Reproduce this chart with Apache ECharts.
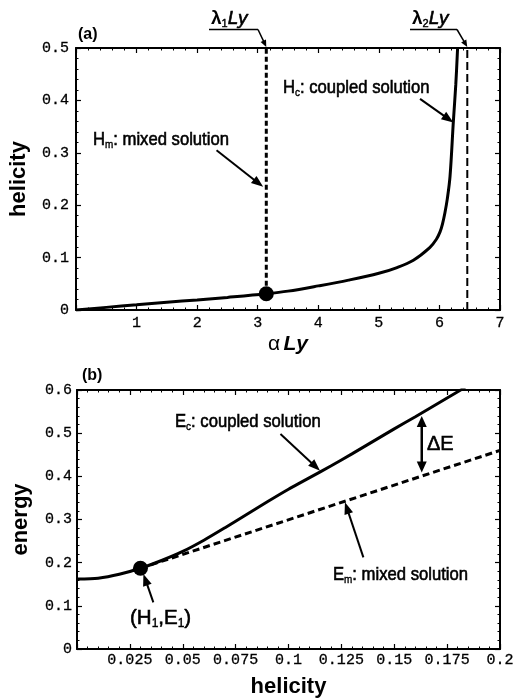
<!DOCTYPE html>
<html><head><meta charset="utf-8">
<script src="https://cdn.jsdelivr.net/npm/echarts@6/dist/echarts.min.js"></script>
<style>html,body{margin:0;padding:0;background:#fff}#c{width:517px;height:699px}</style>
</head><body><div id="c"></div>
<script>
// ---- panel (a): helicity vs alpha*Ly ----
const alphaLy   = [0, 0.5, 1, 1.5, 2, 2.5, 3.1416, 3.5, 4, 4.5, 5, 5.3, 5.57, 5.84, 5.95, 6.01, 6.05, 6.09, 6.13, 6.175, 6.23, 6.27, 6.30];
const helicityC = [0, 0.005, 0.010, 0.015, 0.019, 0.024, 0.031, 0.036, 0.046, 0.057, 0.070, 0.081, 0.095, 0.119, 0.135, 0.149, 0.164, 0.185, 0.212, 0.255, 0.36, 0.43, 0.50];
const lambda1Ly = 3.1416;
const lambda2Ly = 6.46;
const mixedPointA = [3.1416, 0.031];
const helicityTop = 0.5;
// ---- panel (b): energy vs helicity ----
const helicityB = [0, 0.01, 0.02, 0.03, 0.04, 0.05, 0.06, 0.07, 0.08, 0.09, 0.10, 0.11, 0.12, 0.13, 0.14, 0.15, 0.16, 0.17, 0.18, 0.1835];
const energyC   = [0.162, 0.164, 0.173, 0.187, 0.205, 0.226, 0.252, 0.281, 0.311, 0.341, 0.370, 0.397, 0.424, 0.452, 0.481, 0.510, 0.538, 0.567, 0.596, 0.606];
const helicityM = [0.03, 0.2];
const energyM   = [0.187, 0.46];
const pointH1E1 = [0.03, 0.187];

const chart = echarts.init(document.getElementById('c'), null, {renderer: 'canvas'});
const MONO = "'Liberation Mono','DejaVu Sans Mono',monospace";
const SANS = "'Liberation Sans',Arial,sans-serif";
const SANSB = "'Liberation Sans',Arial,sans-serif";

function frameAxis(base) {
  return Object.assign({
    axisLine: {show: true, onZero: false, lineStyle: {color: '#000', width: 2}},
    axisTick: {show: true, inside: true, length: 5, lineStyle: {color: '#000', width: 1.2}},
    minorTick: {show: true, splitNumber: 5, length: 2.5, lineStyle: {color: '#000', width: 1}},
    splitLine: {show: false},
    axisLabel: {show: false}
  }, base);
}
const labelStyle = {color: '#000', fontFamily: MONO, fontSize: 15, textBorderColor: '#000', textBorderWidth: 0.3};
const nameStyle = {color: '#000', fontFamily: SANSB, fontWeight: 'bold', fontSize: 22};

const option = {
  animation: false,
  backgroundColor: '#fff',
  grid: [
    {left: 75, top: 48, width: 425, height: 262},
    {left: 77, top: 390, width: 423, height: 260}
  ],
  xAxis: [
    frameAxis({gridIndex: 0, type: 'value', min: 0, max: 7, interval: 1, position: 'bottom',
      axisLabel: Object.assign({show: true, margin: 6, formatter: v => v === 0 ? '' : String(v)}, labelStyle),
      name: '{g|α} {b|Ly}', nameLocation: 'middle', nameGap: 24,
      nameTextStyle: {rich: {g: {fontFamily: SANSB, fontSize: 21, color: '#000'}, b: {fontFamily: SANSB, fontSize: 21, fontWeight: 'bold', fontStyle: 'italic', color: '#000'}}}}),
    frameAxis({gridIndex: 0, type: 'value', min: 0, max: 7, interval: 1, position: 'top'}),
    frameAxis({gridIndex: 1, type: 'value', min: 0, max: 0.2, interval: 0.025, position: 'bottom',
      axisLabel: Object.assign({show: true, margin: 4, formatter: v => v === 0 ? '' : String(+v.toFixed(3))}, labelStyle),
      name: 'helicity', nameLocation: 'middle', nameGap: 27, nameTextStyle: nameStyle}),
    frameAxis({gridIndex: 1, type: 'value', min: 0, max: 0.2, interval: 0.025, position: 'top'})
  ],
  yAxis: [
    frameAxis({gridIndex: 0, type: 'value', min: 0, max: 0.5, interval: 0.1, position: 'left',
      axisLabel: Object.assign({show: true, margin: 7, formatter: v => v === 0 ? '0' : v.toFixed(1)}, labelStyle),
      name: 'helicity', nameLocation: 'middle', nameGap: 46, nameRotate: 90, nameTextStyle: nameStyle}),
    frameAxis({gridIndex: 0, type: 'value', min: 0, max: 0.5, interval: 0.1, position: 'right'}),
    frameAxis({gridIndex: 1, type: 'value', min: 0, max: 0.6, interval: 0.1, position: 'left',
      axisLabel: Object.assign({show: true, margin: 5, formatter: v => v === 0 ? '0' : v.toFixed(1)}, labelStyle),
      name: 'energy', nameLocation: 'middle', nameGap: 45, nameRotate: 90, nameTextStyle: nameStyle}),
    frameAxis({gridIndex: 1, type: 'value', min: 0, max: 0.6, interval: 0.1, position: 'right'})
  ],
  series: [
    {type: 'line', xAxisIndex: 0, yAxisIndex: 0, data: alphaLy.map((a, i) => [a, helicityC[i]]),
      smooth: 0.35, showSymbol: false, clip: true, lineStyle: {color: '#000', width: 3}},
    {type: 'line', xAxisIndex: 0, yAxisIndex: 0, data: [[lambda1Ly, mixedPointA[1]], [lambda1Ly, helicityTop]],
      showSymbol: false, lineStyle: {color: '#000', width: 3, type: [5, 3]}},
    {type: 'line', xAxisIndex: 0, yAxisIndex: 0, data: [[lambda2Ly, 0], [lambda2Ly, helicityTop]],
      showSymbol: false, lineStyle: {color: '#000', width: 2, type: [8, 4]}},
    {type: 'scatter', xAxisIndex: 0, yAxisIndex: 0, data: [mixedPointA], symbolSize: 15, itemStyle: {color: '#000', opacity: 1}},
    {type: 'line', xAxisIndex: 2, yAxisIndex: 2, data: helicityB.map((h, i) => [h, energyC[i]]),
      smooth: 0.25, showSymbol: false, clip: true, lineStyle: {color: '#000', width: 3}},
    {type: 'line', xAxisIndex: 2, yAxisIndex: 2, data: helicityM.map((h, i) => [h, energyM[i]]),
      showSymbol: false, lineStyle: {color: '#000', width: 3, type: [7, 4]}},
    {type: 'scatter', xAxisIndex: 2, yAxisIndex: 2, data: [pointH1E1], symbolSize: 15, itemStyle: {color: '#000', opacity: 1}}
  ]
};
chart.setOption(option);

// ---- annotations ----
function px(g, p) { return chart.convertToPixel({gridIndex: g}, p); }
function arrow(p0, p1, opt) {
  opt = opt || {};
  const hl = opt.hl || 12, hw = opt.hw || 4.5, w = opt.w || 2;
  const dx = p1[0] - p0[0], dy = p1[1] - p0[1], L = Math.hypot(dx, dy);
  const ux = dx / L, uy = dy / L, nx = -uy, ny = ux;
  const els = [];
  let a = p0, b = [p1[0] - ux * hl * 0.8, p1[1] - uy * hl * 0.8];
  if (opt.both) a = [p0[0] + ux * hl * 0.8, p0[1] + uy * hl * 0.8];
  els.push({type: 'polyline', shape: {points: [a, b]}, style: {stroke: '#000', lineWidth: w, fill: null}});
  const head = (tip, sx, sy) => {
    const bx = tip[0] - sx * hl, by = tip[1] - sy * hl;
    return {type: 'polygon', shape: {points: [tip, [bx + nx * hw, by + ny * hw], [bx - nx * hw, by - ny * hw]]}, style: {fill: '#000'}};
  };
  els.push(head(p1, ux, uy));
  if (opt.both) els.push(head(p0, -ux, -uy));
  return els;
}
function label(x, y, parts, size, sx) {
  const text = parts.map(p => '{' + p[1] + '|' + p[0] + '}').join('');
  const lh = size + 2;
  const rich = {
    n: {fontFamily: SANS, fontSize: size, fill: '#000', lineHeight: lh, stroke: '#000', lineWidth: 0.6},
    s: {fontFamily: SANS, fontSize: Math.round(size * 0.58), fill: '#000', verticalAlign: 'bottom', lineHeight: lh, stroke: '#000', lineWidth: 0.4},
    i: {fontFamily: SANSB, fontSize: size, fontStyle: 'italic', fill: '#000', lineHeight: lh, stroke: '#000', lineWidth: 0.6},
    l: {fontFamily: SANSB, fontSize: size, fontWeight: 'bold', fill: '#000', lineHeight: lh},
    b: {fontFamily: SANSB, fontSize: size, fontWeight: 'bold', fill: '#000', lineHeight: lh}
  };
  return {type: 'text', x: x, y: y, scaleX: sx || 1, style: {text: text, rich: rich, verticalAlign: 'middle'}};
}

const g = [];
// panel (a)
g.push(label(78, 35, [['(a)', 'b']], 16));
g.push(label(93, 140, [['H', 'n'], ['m', 's'], [': mixed solution', 'n']], 18.5, 0.9));
g.push(...arrow(px(0, [2.32, 0.305]), px(0, [3.09, 0.235])));
g.push(label(283, 88, [['H', 'n'], ['c', 's'], [': coupled solution', 'n']], 18.5, 0.9));
g.push(...arrow(px(0, [5.68, 0.403]), px(0, [6.23, 0.358])));
const l1 = px(0, [lambda1Ly, helicityTop]);
const l2 = px(0, [lambda2Ly, helicityTop]);
g.push(label(211, 19, [['λ', 'l'], ['1', 's'], ['Ly', 'i']], 19));
g.push({type: 'polyline', shape: {points: [[209, 29.5], [258, 29.5]]}, style: {stroke: '#000', lineWidth: 1.5, fill: null}});
g.push(...arrow([258, 29.5], [l1[0], l1[1] - 1], {hl: 7, hw: 3, w: 1.5}));
g.push(label(412, 19, [['λ', 'l'], ['2', 's'], ['Ly', 'i']], 19));
g.push({type: 'polyline', shape: {points: [[410, 29.5], [457, 29.5]]}, style: {stroke: '#000', lineWidth: 1.5, fill: null}});
g.push(...arrow([457, 29.5], [l2[0], l2[1] - 1], {hl: 7, hw: 3, w: 1.5}));
// panel (b)
g.push(label(82, 376, [['(b)', 'b']], 16));
g.push(label(175, 422, [['E', 'n'], ['c', 's'], [': coupled solution', 'n']], 18.5, 0.9));
g.push(...arrow(px(1, [0.0962, 0.498]), px(1, [0.1149, 0.413])));
g.push(...arrow(px(1, [0.163, 0.409]), px(1, [0.163, 0.540]), {both: true, w: 2.5, hl: 11, hw: 5}));
g.push(label(427, 444, [['ΔE', 'n']], 20));
g.push(label(333, 575, [['E', 'n'], ['m', 's'], [': mixed solution', 'n']], 18.5, 0.9));
g.push(...arrow(px(1, [0.1354, 0.2124]), px(1, [0.1267, 0.3399])));
g.push(label(130, 618, [['(H', 'n'], ['1', 's'], [',E', 'n'], ['1', 's'], [')', 'n']], 20.5));
g.push(...arrow(px(1, [0.0361, 0.108]), px(1, [0.0314, 0.174])));

chart.setOption({graphic: {elements: g}});
</script>
</body></html>
